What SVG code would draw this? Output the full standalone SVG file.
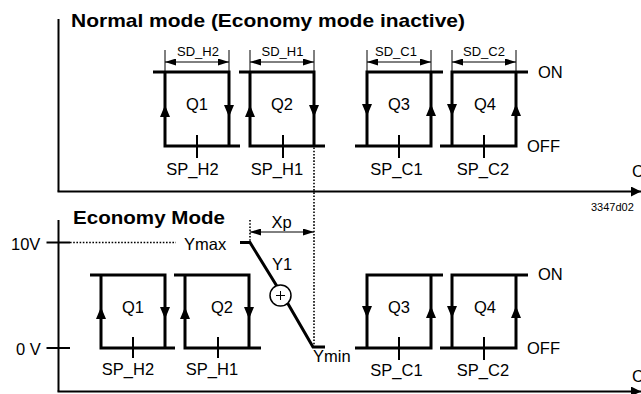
<svg xmlns="http://www.w3.org/2000/svg" width="641" height="394" viewBox="0 0 641 394">
  <defs>
    <marker id="axisHead" viewBox="0 0 10 10" refX="10" refY="5" markerWidth="10" markerHeight="10" markerUnits="userSpaceOnUse" orient="auto">
      <path d="M0,0 L10,5 L0,10 Z" fill="#000"/>
    </marker>
    <marker id="dimHead" viewBox="0 0 11 7" refX="11" refY="3.5" markerWidth="11" markerHeight="7" markerUnits="userSpaceOnUse" orient="auto-start-reverse">
      <path d="M0,0 L11,3.5 L0,7 Z" fill="#000"/>
    </marker>
    <path id="arrUp" d="M0,0 L5,12 L-5,12 Z"/>
    <path id="arrDown" d="M0,12 L5,0 L-5,0 Z"/>
  </defs>
  <style>
    text { font-family: "Liberation Sans", Arial, sans-serif; fill: #000; }
    .title { font-size: 18.5px; font-weight: bold; }
    .lbl { font-size: 16.5px; }
    .sd { font-size: 13px; }
    .code { font-size: 11px; }
    .mid { text-anchor: middle; }
    .axis { stroke: #000; stroke-width: 2; fill: none; }
    .loop { stroke: #000; stroke-width: 3; fill: none; stroke-linejoin: miter; stroke-linecap: butt; }
    .tick { stroke: #000; stroke-width: 2; fill: none; }
    .thin { stroke: #000; stroke-width: 1; fill: none; }
    .dot { stroke: #000; stroke-width: 1.6; stroke-dasharray: 1.6 1.6; fill: none; }
    .head { fill: #000; }
  </style>

  <!-- Normal mode section -->
  <g id="normal-axes">
    <line class="axis" x1="58.5" y1="19" x2="58.5" y2="191.5"/>
    <line class="axis" x1="57.5" y1="191.5" x2="641" y2="191.5" marker-end="url(#axisHead)"/>
    <text class="lbl" x="632" y="177">C</text>
    <text class="title" x="71" y="27" textLength="394" lengthAdjust="spacingAndGlyphs">Normal mode (Economy mode inactive)</text>
    <text class="lbl" x="538" y="77.5">ON</text>
    <text class="lbl" x="527" y="152">OFF</text>
    <text class="code" x="591" y="210.5">3347d02</text>
  </g>

  <g id="n-q1">
    <path class="loop" d="M153,72 H229 V146 M165,72 V146 H240"/>
    <use href="#arrUp" class="head" x="165" y="105"/>
    <use href="#arrDown" class="head" x="229" y="105"/>
    <line class="tick" x1="197" y1="135" x2="197" y2="158"/>
    <text class="lbl mid" x="197" y="110">Q1</text>
    <text class="lbl mid" x="192.5" y="175">SP_H2</text>
    <path class="thin" d="M165,50 V72 M229,50 V72"/>
    <line class="thin" x1="165" y1="62" x2="229" y2="62" marker-start="url(#dimHead)" marker-end="url(#dimHead)"/>
    <text class="sd mid" x="198" y="56">SD_H2</text>
  </g>

  <g id="n-q2">
    <path class="loop" d="M239,72 H314 V146 M250,72 V146 H325"/>
    <use href="#arrUp" class="head" x="250" y="105"/>
    <use href="#arrDown" class="head" x="314" y="105"/>
    <line class="tick" x1="283" y1="135" x2="283" y2="158"/>
    <text class="lbl mid" x="282" y="110">Q2</text>
    <text class="lbl mid" x="277" y="175">SP_H1</text>
    <path class="thin" d="M250,50 V72 M314,50 V72"/>
    <line class="thin" x1="250" y1="62" x2="314" y2="62" marker-start="url(#dimHead)" marker-end="url(#dimHead)"/>
    <text class="sd mid" x="282.5" y="56">SD_H1</text>
  </g>

  <g id="n-q3">
    <path class="loop" d="M443,72 H367 V146 M355,146 H431 V72"/>
    <use href="#arrDown" class="head" x="367" y="104"/>
    <use href="#arrUp" class="head" x="431" y="104"/>
    <line class="tick" x1="399" y1="135" x2="399" y2="158"/>
    <text class="lbl mid" x="399" y="110">Q3</text>
    <text class="lbl mid" x="396.5" y="175">SP_C1</text>
    <path class="thin" d="M367,50 V72 M431,50 V72"/>
    <line class="thin" x1="367" y1="62" x2="431" y2="62" marker-start="url(#dimHead)" marker-end="url(#dimHead)"/>
    <text class="sd mid" x="396" y="56">SD_C1</text>
  </g>

  <g id="n-q4">
    <path class="loop" d="M528,72 H452 V146 M440,146 H516 V72"/>
    <use href="#arrDown" class="head" x="452" y="104"/>
    <use href="#arrUp" class="head" x="516" y="104"/>
    <line class="tick" x1="484" y1="135" x2="484" y2="158"/>
    <text class="lbl mid" x="485" y="110">Q4</text>
    <text class="lbl mid" x="483" y="175">SP_C2</text>
    <path class="thin" d="M452,50 V72 M516,50 V72"/>
    <line class="thin" x1="452" y1="62" x2="516" y2="62" marker-start="url(#dimHead)" marker-end="url(#dimHead)"/>
    <text class="sd mid" x="484" y="56">SD_C2</text>
  </g>

  <!-- Economy mode section -->
  <g id="eco-axes">
    <line class="axis" x1="58.5" y1="220" x2="58.5" y2="391.5"/>
    <line class="axis" x1="57.5" y1="391.5" x2="641" y2="391.5" marker-end="url(#axisHead)"/>
    <text class="lbl" x="632" y="382">C</text>
    <text class="title" x="73" y="223.5" textLength="152" lengthAdjust="spacingAndGlyphs">Economy Mode</text>
    <line class="tick" x1="46.5" y1="242.5" x2="70" y2="242.5"/>
    <line class="tick" x1="46.5" y1="348" x2="70" y2="348"/>
    <text class="lbl" x="11" y="250">10V</text>
    <text class="lbl" x="16" y="355">0 V</text>
    <line class="dot" x1="70" y1="242.5" x2="176" y2="242.5"/>
    <text class="lbl" x="184" y="250">Ymax</text>
    <text class="lbl" x="313" y="362">Ymin</text>
    <text class="lbl" x="538" y="280">ON</text>
    <text class="lbl" x="527" y="354">OFF</text>
  </g>

  <g id="e-q1">
    <path class="loop" d="M90,275 H165 V348 M101,275 V348 H175"/>
    <use href="#arrUp" class="head" x="101" y="307"/>
    <use href="#arrDown" class="head" x="165" y="307"/>
    <line class="tick" x1="133" y1="337" x2="133" y2="358"/>
    <text class="lbl mid" x="133" y="313">Q1</text>
    <text class="lbl mid" x="128" y="375">SP_H2</text>
  </g>

  <g id="e-q2">
    <path class="loop" d="M174,275 H249 V348 M185,275 V348 H261"/>
    <use href="#arrUp" class="head" x="185" y="307"/>
    <use href="#arrDown" class="head" x="249" y="307"/>
    <line class="tick" x1="218" y1="337" x2="218" y2="358"/>
    <text class="lbl mid" x="222" y="313">Q2</text>
    <text class="lbl mid" x="212" y="375">SP_H1</text>
  </g>

  <g id="e-y1">
    <path class="loop" d="M240,242.5 H250 L280.5,292 M285.5,299.5 L313,347 H325"/>
    <circle cx="280.5" cy="295.5" r="10.5" fill="#fff" stroke="#000" stroke-width="1.5"/>
    <path class="thin" d="M276,295.5 H285 M280.5,291 V300"/>
    <text class="lbl" x="272" y="270">Y1</text>
    <line class="dot" x1="250" y1="220" x2="250" y2="242"/>
    <line class="thin" x1="250" y1="232" x2="314" y2="232" marker-start="url(#dimHead)" marker-end="url(#dimHead)"/>
    <text class="lbl mid" x="281.5" y="227.5">Xp</text>
  </g>

  <g id="e-q3">
    <path class="loop" d="M443,275 H367 V348 M355,348 H431 V275"/>
    <use href="#arrDown" class="head" x="367" y="306"/>
    <use href="#arrUp" class="head" x="431" y="306"/>
    <line class="tick" x1="399" y1="337" x2="399" y2="360"/>
    <text class="lbl mid" x="399" y="313">Q3</text>
    <text class="lbl mid" x="396.5" y="376">SP_C1</text>
  </g>

  <g id="e-q4">
    <path class="loop" d="M528,275 H452 V348 M440,348 H516 V275"/>
    <use href="#arrDown" class="head" x="452" y="306"/>
    <use href="#arrUp" class="head" x="516" y="306"/>
    <line class="tick" x1="484" y1="337" x2="484" y2="360"/>
    <text class="lbl mid" x="485" y="313">Q4</text>
    <text class="lbl mid" x="483" y="376">SP_C2</text>
  </g>

  <!-- connectors between the two sections -->
  <g id="connectors">
    <line class="dot" x1="314" y1="147.5" x2="314" y2="346"/>
  </g>
</svg>
